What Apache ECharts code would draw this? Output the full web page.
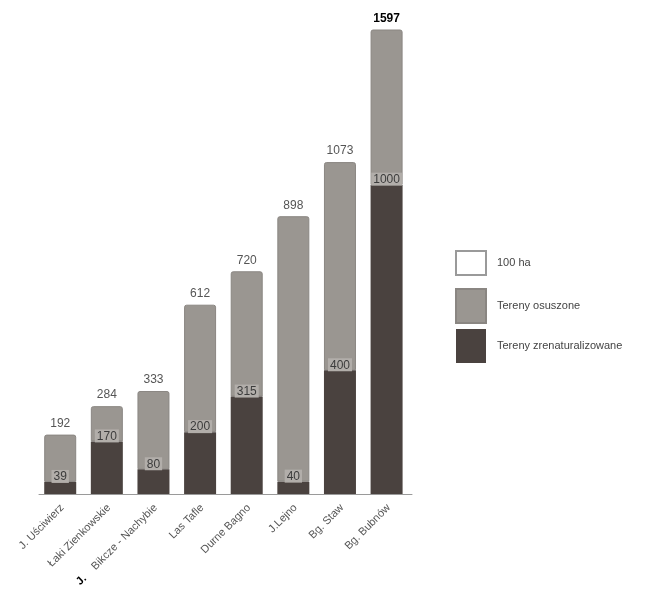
<!DOCTYPE html>
<html>
<head>
<meta charset="utf-8">
<style>
  html, body { margin: 0; padding: 0; background: #ffffff; }
  #chart { width: 667px; height: 609px; }
</style>
<script src="https://cdn.jsdelivr.net/npm/echarts@6/dist/echarts.min.js"></script>
</head>
<body>
<div id="chart"></div>
<script>
// Obszary (ha): tereny zrenaturalizowane i łączna powierzchnia terenów osuszonych
const categories = ['J. Uściwierz', 'Łaki Zienkowskie', 'J. Bikcze - Nachybie', 'Las Tafle', 'Durne Bagno', 'J.Lejno', 'Bg. Staw', 'Bg. Bubnów'];
const restored = [39, 170, 80, 200, 315, 40, 400, 1000];
const totals = [192, 284, 333, 612, 720, 898, 1073, 1597];

const FONT = '"Liberation Sans", Arial, sans-serif';
const GRAY = '#9a9691';
const DARK = '#4a423f';

// upper segment = total minus restored part, so the stack top equals the total
const drained = totals.map((t, i) => t - restored[i]);
const maxTotal = Math.max(...totals);

const chart = echarts.init(document.getElementById('chart'), null, { renderer: 'canvas' });

chart.setOption({
  backgroundColor: '#ffffff',
  animation: false,
  textStyle: { fontFamily: FONT },
  grid: { left: 39, right: 255, top: 30, bottom: 115 },
  legend: [
    {
      data: ['100 ha'],
      orient: 'vertical',
      left: 450, top: 245,
      itemWidth: 30, itemHeight: 24,
      icon: 'rect',
      textStyle: { color: '#444', fontSize: 11, fontFamily: FONT, padding: [0, 0, 0, 6] },
      selectedMode: false
    },
    {
      data: ['Tereny osuszone', 'Tereny zrenaturalizowane'],
      orient: 'vertical',
      left: 450, top: 283,
      itemWidth: 30, itemHeight: 34,
      itemGap: 5,
      icon: 'rect',
      textStyle: { color: '#444', fontSize: 11, fontFamily: FONT, padding: [0, 0, 0, 6] },
      selectedMode: false
    }
  ],
  xAxis: {
    type: 'category',
    data: categories,
    axisLine: { lineStyle: { color: '#9a9a9a', width: 1 } },
    axisTick: { show: false },
    axisLabel: {
      rotate: 45,
      interval: 0,
      margin: 12,
      color: '#555',
      fontSize: 11,
      fontFamily: FONT,
      formatter: function (v) {
        if (v.indexOf('J. Bikcze') === 0) {
          return '{j|J.}    ' + v.slice(3);
        }
        return v;
      },
      rich: {
        j: { color: '#000', fontWeight: 'bold', fontSize: 11, fontFamily: FONT }
      }
    }
  },
  yAxis: {
    type: 'value',
    min: 0,
    max: 1500,
    show: false,
    splitLine: { show: false }
  },
  series: [
    {
      name: 'Tereny zrenaturalizowane',
      type: 'bar',
      stack: 'area',
      barWidth: 32,
      data: restored,
      itemStyle: { color: DARK },
      label: {
        show: true,
        position: 'top',
        distance: -1,
        color: '#3c3c3c',
        fontSize: 12,
        fontFamily: FONT,
        backgroundColor: '#b2aeaa',
        padding: [1, 2, 0, 2]
      },
      z: 3
    },
    {
      name: 'Tereny osuszone',
      type: 'bar',
      stack: 'area',
      barWidth: 32,
      clip: true,
      data: drained.map((v, i) => {
        const item = { value: v };
        if (totals[i] === maxTotal) {
          item.label = { color: '#000', fontWeight: 'bold' };
        }
        return item;
      }),
      itemStyle: {
        color: GRAY,
        borderColor: '#8a8682',
        borderWidth: 1,
        borderRadius: [2, 2, 0, 0]
      },
      label: {
        show: true,
        position: 'top',
        distance: 5,
        color: '#555',
        fontSize: 12,
        fontFamily: FONT,
        formatter: function (p) { return String(totals[p.dataIndex]); }
      },
      z: 2
    },
    {
      name: '100 ha',
      type: 'bar',
      data: [],
      itemStyle: { color: '#ffffff', borderColor: '#9a9a9a', borderWidth: 1 }
    }
  ]
});
</script>
</body>
</html>
